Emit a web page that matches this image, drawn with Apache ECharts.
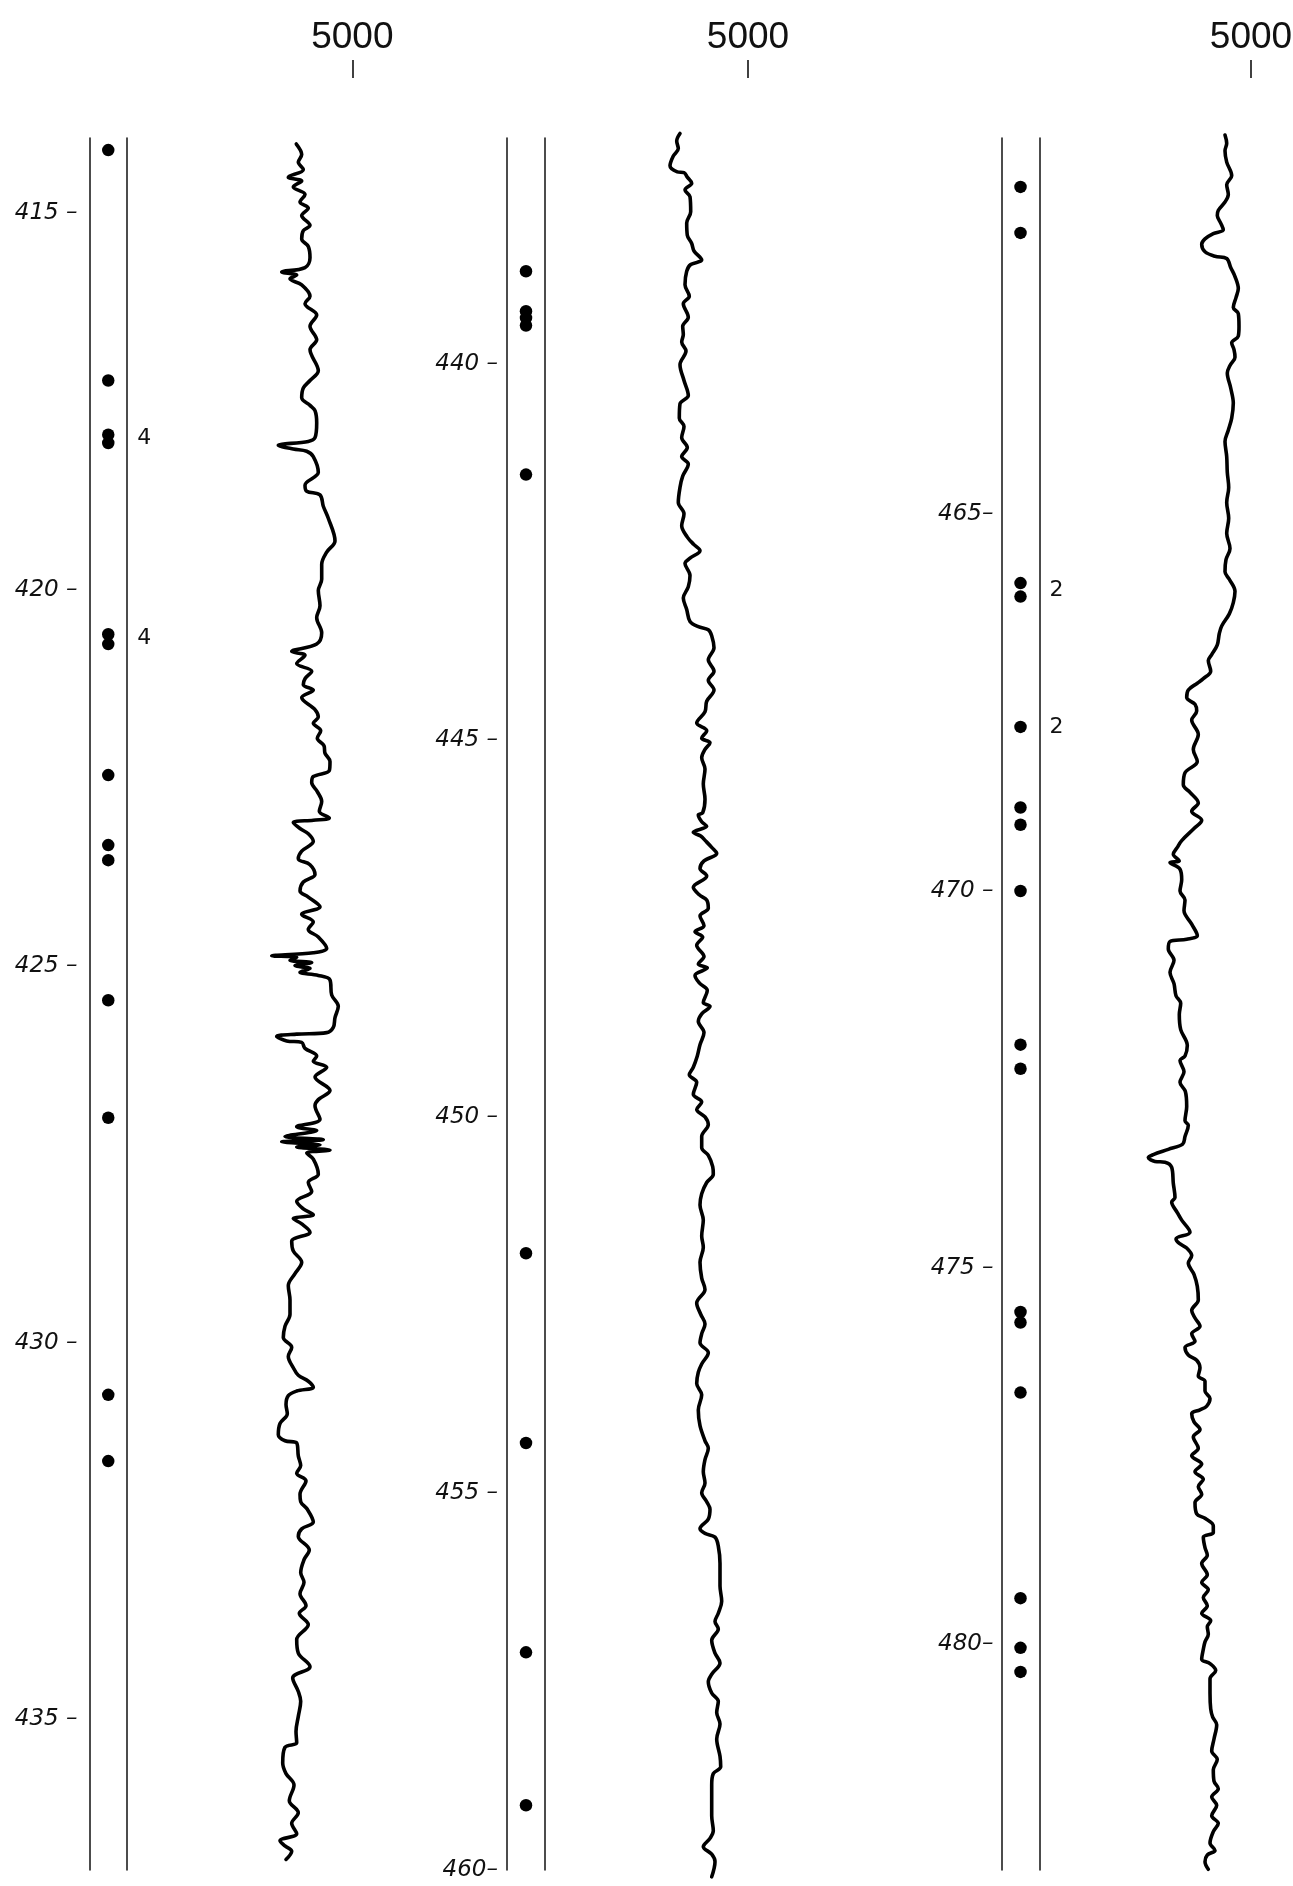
<!DOCTYPE html>
<html><head><meta charset="utf-8">
<script src="https://cdn.jsdelivr.net/npm/echarts@6/dist/echarts.min.js"></script>
<style>html,body{margin:0;padding:0;background:#fff}#c{width:1293px;height:1886px}</style>
</head><body><div id="c"></div>
<script>
// ---- depth ranges of the three panels ----
const range1 = [414, 437];
const range2 = [437, 460];
const range3 = [460, 483];

// ---- depth tick labels ----
const ticks1 = [415, 420, 425, 430, 435];
const labels1 = ['415 –', '420 –', '425 –', '430 –', '435 –'];
const ticks2 = [440, 445, 450, 455, 460];
const labels2 = ['440 –', '445 –', '450 –', '455 –', '460–'];
const ticks3 = [465, 470, 475, 480];
const labels3 = ['465–', '470 –', '475 –', '480–'];

// ---- velocity tick ----
const velTicks = [5000];
const velLabels = ['5000'];

// ---- sample depths (dots) ----
const dots1 = [414.16, 417.22, 417.94, 418.05, 420.59, 420.72, 422.46, 423.39, 423.59, 425.45, 427.01, 430.69, 431.57];
const dots2 = [438.77, 439.30, 439.39, 439.49, 441.47, 451.81, 454.33, 457.11, 459.14];
const dots3 = [460.65, 461.26, 465.91, 466.09, 467.82, 468.89, 469.12, 470.00, 472.04, 472.36, 475.59, 475.73, 476.66, 479.39, 480.05, 480.37];

// ---- annotations [depth, text] ----
const ann1 = [[417.99, '4'], [420.65, '4']];
const ann2 = [];
const ann3 = [[466.0, '2'], [467.82, '2']];

// ---- velocity logs [depth, velocity] ----
const curve1 = [
[414.08,4440],[414.22,4494],[414.32,4460],[414.42,4510],[414.52,4360],[414.57,4494],[414.65,4410],[414.75,4527],[414.85,4477],[414.93,4560],[415.03,4494],[415.16,4577],[415.23,4510],[415.34,4494],[415.44,4560],[415.59,4577],[415.72,4527],[415.78,4294],[415.82,4444],[415.87,4377],[415.95,4494],[416.10,4577],[416.20,4527],[416.35,4644],[416.50,4577],[416.68,4644],[416.81,4577],[417.09,4660],[417.22,4577],[417.32,4510],[417.45,4494],[417.55,4577],[417.62,4627],[417.78,4644],[417.98,4627],[418.03,4560],[418.08,4260],[418.13,4410],[418.16,4544],[418.23,4610],[418.44,4660],[418.61,4527],[418.69,4544],[418.74,4677],[418.89,4710],[419.05,4760],[419.35,4827],[419.50,4744],[419.66,4694],[419.86,4694],[420.01,4660],[420.21,4677],[420.37,4644],[420.57,4694],[420.72,4644],[420.82,4394],[420.87,4527],[420.98,4444],[421.08,4594],[421.18,4527],[421.26,4510],[421.33,4610],[421.43,4494],[421.59,4627],[421.69,4660],
[421.77,4610],[421.87,4684],[421.97,4650],[422.07,4717],[422.17,4727],[422.28,4777],[422.40,4770],[422.48,4610],[422.56,4594],[422.68,4650],[422.81,4694],[422.94,4670],[423.03,4770],[423.06,4610],[423.09,4410],[423.17,4477],[423.24,4560],[423.34,4610],[423.47,4494],[423.57,4460],[423.65,4577],[423.78,4627],[423.88,4510],[424.00,4477],[424.08,4560],[424.21,4677],[424.31,4494],[424.41,4610],[424.51,4560],[424.61,4660],[424.76,4744],[424.82,4610],[424.86,4194],[424.88,4444],[424.92,4377],[424.95,4594],[424.99,4427],[425.03,4577],[425.08,4477],[425.12,4660],[425.18,4777],[425.38,4794],[425.53,4860],[425.68,4827],[425.81,4810],[425.88,4744],[425.90,4444],[425.93,4244],[425.99,4344],[426.01,4494],[426.09,4527],[426.19,4644],[426.26,4610],[426.34,4744],[426.47,4627],[426.65,4777],[426.77,4660],[426.85,4627],[427.03,4677],[427.13,4444],[427.18,4644],[427.26,4327],[427.30,4710],[427.33,4294],[427.37,4677],[427.40,4444],[427.44,4777],[427.48,4544],[427.56,4610],[427.76,4660],[427.87,4560],[427.99,4594],[428.12,4444],[428.22,4510],[428.30,4610],[428.35,4410],[428.42,4494],[428.53,4577],[428.65,4394],[428.78,4410],[428.93,4494],[429.08,4427],[429.24,4360],[429.43,4377],
[429.62,4377],[429.78,4327],[429.93,4310],[430.06,4394],[430.18,4360],[430.33,4410],[430.43,4460],[430.51,4560],[430.59,4610],[430.64,4444],[430.70,4360],[430.82,4337],[430.94,4350],[431.07,4277],[431.22,4260],[431.30,4327],[431.33,4444],[431.50,4460],[431.63,4484],[431.73,4444],[431.83,4537],[432.01,4477],[432.11,4484],[432.21,4550],[432.38,4610],[432.47,4494],[432.57,4460],[432.75,4570],[432.88,4517],[433.05,4484],[433.18,4517],[433.33,4477],[433.49,4537],[433.59,4470],[433.74,4560],[433.94,4444],[434.12,4460],[434.30,4577],[434.45,4404],[434.63,4460],[434.76,4484],[434.96,4460],[435.16,4437],[435.31,4444],[435.37,4327],[435.58,4304],[435.72,4337],[435.87,4417],[436.08,4370],[436.24,4460],[436.38,4394],[436.52,4444],[436.61,4277],[436.68,4327],[436.75,4394],[436.86,4337]
];
const curve2 = [
[436.94,4320],[437.04,4287],[437.14,4303],[437.24,4253],[437.37,4220],[437.45,4293],[437.46,4360],[437.52,4393],[437.60,4437],[437.69,4370],[437.78,4420],[437.98,4427],[438.13,4387],[438.29,4393],[438.40,4437],[438.50,4460],[438.62,4537],[438.68,4427],[438.77,4387],[438.95,4370],[439.10,4413],[439.20,4353],[439.38,4403],[439.50,4347],[439.61,4353],[439.71,4337],[439.83,4380],[440.01,4320],[440.22,4360],[440.42,4403],[440.53,4320],[440.72,4313],[440.83,4360],[440.98,4337],[441.11,4393],[441.23,4337],[441.33,4403],[441.49,4347],[441.64,4320],[441.84,4303],[441.99,4360],[442.15,4337],[442.30,4393],[442.40,4460],[442.48,4520],[442.58,4420],[442.65,4370],[442.81,4420],[442.96,4403],[443.11,4353],[443.26,4387],[443.42,4420],[443.49,4503],[443.53,4603],[443.61,4637],[443.77,4660],[443.93,4603],[444.08,4660],[444.20,4603],[444.33,4660],[444.48,4587],
[444.62,4570],[444.77,4487],[444.87,4587],[444.97,4537],[445.03,4620],[445.12,4570],[445.23,4537],[445.38,4570],[445.58,4553],[445.78,4570],[445.96,4547],[445.99,4503],[446.08,4537],[446.14,4587],[446.22,4453],[446.27,4527],[446.34,4580],[446.42,4637],[446.50,4687],[446.60,4560],[446.70,4520],[446.80,4587],[446.95,4453],[447.05,4513],[447.12,4587],[447.23,4603],[447.33,4520],[447.46,4560],[447.54,4470],[447.61,4547],[447.72,4487],[447.87,4560],[447.97,4503],[448.02,4593],[448.12,4470],[448.22,4513],[448.32,4593],[448.48,4553],[448.53,4620],[448.63,4537],[448.73,4503],[448.88,4560],[449.04,4520],[449.19,4493],[449.34,4453],[449.44,4413],[449.54,4487],[449.70,4453],[449.80,4537],[449.90,4487],[450.00,4570],[450.10,4603],[450.26,4537],[450.41,4537],[450.51,4603],[450.66,4647],[450.76,4653],[450.87,4587],[451.02,4537],[451.17,4520],[451.37,4553],[451.58,4537],[451.73,4553],[451.93,4520],[452.14,4537],[452.29,4570],
[452.47,4487],[452.62,4527],[452.75,4570],[452.88,4537],[453.00,4520],[453.13,4603],[453.28,4537],[453.39,4503],[453.54,4487],[453.69,4537],[453.89,4503],[454.10,4520],[454.30,4570],[454.40,4603],[454.55,4570],[454.71,4553],[454.86,4570],[454.99,4537],[455.11,4587],[455.21,4620],[455.34,4603],[455.47,4520],[455.53,4570],[455.58,4670],[455.70,4703],[455.93,4720],[456.23,4720],[456.43,4737],[456.59,4703],[456.70,4670],[456.80,4703],[456.95,4637],[457.12,4670],[457.25,4720],[457.40,4637],[457.50,4603],[457.65,4637],[457.76,4703],[457.91,4687],[458.06,4720],[458.26,4687],[458.49,4720],[458.63,4727],[458.72,4653],[458.87,4637],[459.08,4637],[459.28,4637],[459.48,4653],[459.58,4620],[459.69,4553],[459.79,4637],[459.89,4670],[460.09,4637]
];
const curve3 = [
[459.96,4740],[460.07,4757],[460.17,4740],[460.32,4757],[460.50,4807],[460.62,4757],[460.75,4773],[460.85,4740],[460.96,4673],[461.03,4663],[461.13,4697],[461.22,4723],[461.27,4623],[461.34,4540],[461.41,4507],[461.51,4540],[461.57,4640],[461.60,4757],[461.72,4797],[461.84,4840],[462.00,4873],[462.12,4850],[462.25,4823],[462.33,4873],[462.50,4880],[462.63,4873],[462.72,4807],[462.81,4830],[462.91,4840],[463.02,4790],[463.12,4763],[463.32,4797],[463.52,4823],[463.72,4807],[463.88,4773],[464.03,4740],[464.23,4757],[464.44,4763],[464.64,4777],[464.84,4757],[465.05,4777],[465.25,4757],[465.45,4790],[465.60,4750],[465.76,4740],[465.86,4783],[466.02,4840],[466.17,4823],[466.32,4783],[466.48,4707],[466.58,4683],[466.73,4663],[466.86,4607],[466.94,4573],[467.08,4597],[467.18,4523],[467.24,4463],[467.33,4373],[467.43,4357],[467.52,4440],[467.61,4457],[467.73,4407],
[467.92,4473],[468.12,4423],[468.28,4463],[468.43,4340],[468.59,4323],[468.69,4390],[468.83,4473],[468.94,4407],[469.06,4507],[469.17,4430],[469.33,4307],[469.42,4263],[469.51,4223],[469.60,4283],[469.62,4190],[469.71,4290],[469.85,4307],[470.00,4290],[470.12,4340],[470.26,4330],[470.44,4407],[470.59,4463],[470.64,4357],[470.67,4190],[470.77,4173],[470.92,4230],[471.08,4190],[471.23,4230],[471.39,4250],[471.49,4297],[471.64,4283],[471.84,4297],[472.05,4363],[472.19,4340],[472.25,4290],[472.40,4330],[472.54,4290],[472.66,4343],[472.86,4357],[473.05,4340],[473.11,4373],[473.26,4340],[473.36,4317],[473.43,4173],[473.50,4023],[473.54,3973],[473.59,4040],[473.60,4140],[473.67,4207],[473.88,4223],[474.07,4240],[474.13,4207],[474.27,4263],[474.37,4307],[474.53,4390],[474.62,4250],[474.68,4283],[474.74,4357],[474.84,4407],[474.94,4373],[475.09,4430],[475.25,4463],[475.43,4473],
[475.57,4407],[475.67,4440],[475.78,4490],[475.88,4407],[475.98,4440],[476.06,4340],[476.16,4373],[476.23,4457],[476.33,4490],[476.44,4473],[476.51,4540],[476.64,4540],[476.74,4590],[476.84,4557],[476.89,4490],[476.94,4407],[477.05,4430],[477.15,4490],[477.25,4423],[477.40,4473],[477.50,4407],[477.61,4507],[477.71,4440],[477.81,4523],[477.91,4473],[478.01,4507],[478.12,4440],[478.27,4457],[478.33,4540],[478.43,4623],[478.52,4623],[478.58,4523],[478.72,4540],[478.82,4563],[478.93,4507],[479.08,4563],[479.18,4507],[479.28,4573],[479.38,4523],[479.49,4563],[479.59,4507],[479.69,4597],[479.77,4563],[479.87,4573],[479.97,4540],[480.07,4523],[480.20,4507],[480.26,4590],[480.35,4647],[480.46,4590],[480.65,4590],[480.86,4597],[480.97,4617],[481.07,4657],[481.26,4630],[481.42,4607],[481.53,4663],[481.67,4623],[481.82,4630],[481.92,4673],[482.03,4607],[482.14,4657],[482.28,4607],[482.38,4673],[482.49,4623],[482.64,4590],[482.74,4640],[482.80,4563],[482.89,4540],[482.99,4573]
];

// ---- layout (pixels) ----
const TOP = 138, H = 1732;
const panels = [
  {range: range1, ticks: ticks1, labels: labels1, dots: dots1, ann: ann1, curve: curve1, colLeft: 89.5, colW: 37.5, curveLeft: 152.3, labelMargin: 12},
  {range: range2, ticks: ticks2, labels: labels2, dots: dots2, ann: ann2, curve: curve2, colLeft: 507, colW: 38, curveLeft: 548, labelMargin: 9},
  {range: range3, ticks: ticks3, labels: labels3, dots: dots3, ann: ann3, curve: curve3, colLeft: 1001.5, colW: 38, curveLeft: 1051, labelMargin: 8}
];
const VMIN = 3000, VMAX = 5100, CURVE_W = 210;

const grid = [], xAxis = [], yAxis = [], series = [];
const ink = '#000';
panels.forEach((p, i) => {
  const gCol = grid.length;
  grid.push({left: p.colLeft, top: TOP, width: p.colW, height: H, outerBoundsMode: 'none'});
  const gCur = grid.length;
  grid.push({left: p.curveLeft, top: TOP, width: CURVE_W, height: H, outerBoundsMode: 'none'});

  const xCol = xAxis.length;
  xAxis.push({gridIndex: gCol, type: 'value', min: 0, max: 1, show: false});
  const xCur = xAxis.length;
  xAxis.push({
    gridIndex: gCur, type: 'value', min: VMIN, max: VMAX, position: 'top', offset: 60,
    axisLine: {show: false, onZero: false},
    splitLine: {show: false},
    axisTick: {show: true, customValues: velTicks, length: 18, lineStyle: {color: '#111', width: 1.6}},
    axisLabel: {show: true, customValues: velTicks, formatter: v => velLabels[velTicks.indexOf(v)],
      margin: 22, fontFamily: 'Liberation Sans', fontSize: 37, color: '#111'}
  });

  const yLeft = yAxis.length;
  yAxis.push({
    gridIndex: gCol, type: 'value', min: p.range[0], max: p.range[1], inverse: true, position: 'left',
    axisLine: {show: true, onZero: false, lineStyle: {color: '#111', width: 1.5}},
    axisTick: {show: false}, splitLine: {show: false},
    axisLabel: {show: true, customValues: p.ticks, formatter: v => p.labels[p.ticks.indexOf(v)],
      margin: p.labelMargin, fontFamily: 'DejaVu Sans', fontStyle: 'italic', fontSize: 23, color: '#111'}
  });
  yAxis.push({
    gridIndex: gCol, type: 'value', min: p.range[0], max: p.range[1], inverse: true, position: 'right',
    axisLine: {show: true, onZero: false, lineStyle: {color: '#111', width: 1.5}},
    axisTick: {show: false}, splitLine: {show: false}, axisLabel: {show: false}
  });
  const yCur = yAxis.length;
  yAxis.push({gridIndex: gCur, type: 'value', min: p.range[0], max: p.range[1], inverse: true, show: false});

  series.push({
    type: 'scatter', xAxisIndex: xCol, yAxisIndex: yLeft, silent: true,
    data: p.dots.map(d => [0.5, d]), symbolSize: 12.5, itemStyle: {color: ink, opacity: 1}
  });
  if (p.ann.length) {
    series.push({
      type: 'scatter', xAxisIndex: xCol, yAxisIndex: yLeft, silent: true, symbolSize: 0.1,
      itemStyle: {color: 'rgba(0,0,0,0)'},
      data: p.ann.map(a => [0.5, a[0], a[1]]),
      label: {show: true, position: 'right', distance: 29, formatter: q => q.data[2],
        fontFamily: 'DejaVu Sans', fontSize: 22, color: '#111', opacity: 1}
    });
  }
  series.push({
    type: 'line', xAxisIndex: xCur, yAxisIndex: yCur, silent: true, clip: false,
    data: p.curve.map(c => [c[1], c[0]]), symbol: 'none', showSymbol: false, smooth: 0.35,
    lineStyle: {color: '#000', width: 3.6, cap: 'round', join: 'round'}
  });
});

const chart = echarts.init(document.getElementById('c'), null, {renderer: 'canvas'});
chart.setOption({animation: false, backgroundColor: '#fff', grid, xAxis, yAxis, series});
</script></body></html>
